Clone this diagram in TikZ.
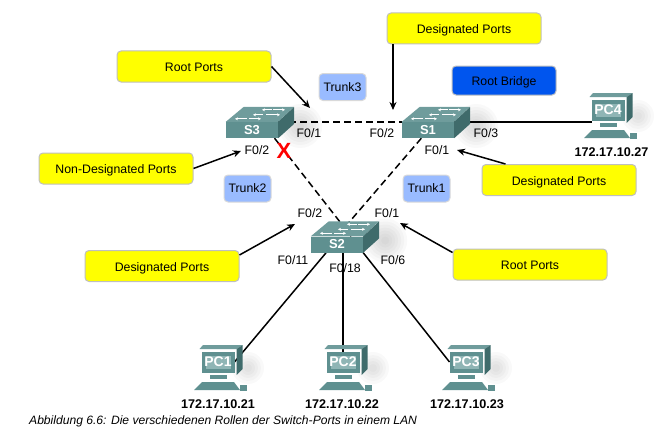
\documentclass[tikz,border=0pt]{standalone}
\usepackage{fontspec}
\setmainfont{Liberation Sans}
\usetikzlibrary{backgrounds,arrows.meta}
\definecolor{notecolor}{HTML}{FFFF00}
\definecolor{bridgecolor}{HTML}{0055EE}
\definecolor{trunkcolor}{HTML}{99BBFF}
\definecolor{facecolor}{HTML}{5F9090}
\definecolor{topcolor}{HTML}{6F9C9C}
\definecolor{sidecolor}{HTML}{3F6B6B}
\definecolor{screencolor}{HTML}{8FB5B5}
\tikzset{
    lbl/.style={font=\fontsize{12.3}{14}\selectfont, inner sep=0pt},
    note/.style={lbl, text height=10pt, text depth=0pt, draw=black!25, line width=1pt, fill=notecolor, rounded corners=4pt, minimum width=154pt, minimum height=31pt},
    bridge/.style={note, fill=bridgecolor, minimum width=104pt, minimum height=29pt},
    trunk/.style={lbl, draw=black!15, line width=1pt, fill=trunkcolor, rounded corners=4pt, minimum width=47pt, minimum height=27pt},
    switchface/.style={fill=facecolor, text=white, font=\fontsize{13}{14}\bfseries, inner sep=0pt, minimum width=52pt, minimum height=16pt},
    pcface/.style={draw=facecolor, line width=4pt, fill=screencolor, text=white, font=\fontsize{14}{16}\bfseries, inner sep=0pt, minimum width=29pt, minimum height=17pt},
    ip/.style={font=\fontsize{12.6}{14}\bfseries, inner sep=0pt},
    pointer/.style={->, >={Stealth[length=8pt,width=7pt]}, line width=1.5pt},
    trunkline/.style={line width=1.5pt, dash pattern=on 7pt off 4pt},
    cable/.style={line width=1.5pt}
}
% switch: name, position of the front face, text
\newcommand{\SwitchIcon}[3]{
    \node[switchface] (#1) at (#2) {#3};
    \fill[topcolor] (#1.north west) -- ++(18,-15) -- ++(50,0) -- (#1.north east) -- cycle;
    \fill[sidecolor] (#1.north east) -- ++(16,-15) -- ++(0,17) -- (#1.south east) -- cycle;
    \foreach \xa/\xb/\dy in {20/10/12, 21/33/12, 11/1/7, 14/28/7, -5/-17/3, -3/9/3} % the small arrows on top
        \draw[white, line width=0.9pt, -{Stealth[length=3pt,width=3pt]}] (#1.north) ++(\xa,-\dy) -- ++(\xb-\xa,0);
    \begin{pgfonlayer}{background}
        \foreach \r in {4,7,...,22} % soft shadow
            \fill[black, opacity=0.025] (#1.east) ++(22,-4) circle (\r);
    \end{pgfonlayer}
}
% pc: name, position of the screen, text, address, shift of the address
\newcommand{\PcIcon}[5]{
    \begin{scope}[shift={(#2)}]
        \fill[topcolor] (-18.5,-13) -- (-15,-17) -- (24.7,-17) -- (18.7,-13) -- cycle;
        \fill[sidecolor] (18.7,-13) -- (24.7,-17) -- (24.7,7) -- (18.7,13) -- cycle;
        \fill[facecolor] (-8,13) rectangle (9,17);
        \fill[facecolor] (-16,20) -- (16,20) -- (22,28) -- (-24,28) -- cycle;
        \fill[facecolor] (22,23) rectangle (29,29);
        \node[pcface] (#1) at (0,0) {#3};
        \node[ip] (#1ip) at (#5,42) {#4};
        \begin{pgfonlayer}{background}
            \foreach \r in {4,7,...,16} % soft shadow
                \fill[black, opacity=0.025] (30,6) circle (\r);
        \end{pgfonlayer}
    \end{scope}
}
\begin{document}
\begin{tikzpicture}[x=1pt, y=-1pt]
    \useasboundingbox (0,0) rectangle (666,436);

    \SwitchIcon{S3}{252,130}{S3}
    \SwitchIcon{S1}{428,130}{S1}
    \SwitchIcon{S2}{337,244.5}{S2}
    \PcIcon{PC4}{608,110}{PC4}{172.17.10.27}{3.5}
    \PcIcon{PC1}{218,362}{PC1}{172.17.10.21}{0}
    \PcIcon{PC2}{343,362}{PC2}{172.17.10.22}{-1}
    \PcIcon{PC3}{466,362}{PC3}{172.17.10.23}{1}

    \node[note] (rootA) at (194,66.5) {Root Ports};
    \node[note] (desigA) at (464,28.5) {Designated Ports};
    \node[bridge] (rootbridge) at (504,80.5) {Root Bridge};
    \node[note] (nondesig) at (116,168.5) {Non-Designated Ports};
    \node[note] (desigB) at (559,180) {Designated Ports};
    \node[note] (desigC) at (162,266) {Designated Ports};
    \node[note] (rootB) at (530,264.5) {Root Ports};
    \node[trunk] (trunkC) at (342.5,87) {Trunk3};
    \node[trunk] (trunkB) at (247.5,188.5) {Trunk2};
    \node[trunk] (trunkA) at (426.5,188.5) {Trunk1};

    % Ports
    \node[lbl] (s3a) at (309,133) {F0/1};
    \node[lbl] (s3b) at (257,150) {F0/2};
    \node[lbl] (s1b) at (382,133) {F0/2};
    \node[lbl] (s1c) at (486,133) {F0/3};
    \node[lbl] (s1a) at (437,150) {F0/1};
    \node[lbl] (s2b) at (310,213) {F0/2};
    \node[lbl] (s2a) at (387,213) {F0/1};
    \node[lbl] (s2k) at (293,260) {F0/11};
    \node[lbl] (s2m) at (345,268) {F0/18};
    \node[lbl] (s2f) at (393,260) {F0/6};

    \begin{scope}[on background layer]
        \draw[trunkline] (S3.north east) -- (S1.north west);
        \draw[trunkline] (S3.-20) -- (S2.30);
        \draw[trunkline] (S1.-129) -- (S2.north);
        \draw[cable] (S1.north east) -- (PC4.west |- S1.north east);
        \draw[cable] (S2.217) -- (PC1.east);
        \draw[cable] (S2.south -| PC2.north) -- (PC2.north);
        \draw[cable] (S2.south east) -- (PC3.west);
    \end{scope}

    % Arrows to the ports
    \coordinate (tipA) at (310,108);
    \coordinate (tipB) at (393,110);
    \coordinate (tipC) at (241,151);
    \coordinate (tipD) at (457,150);
    \coordinate (tipE) at (295,224);
    \coordinate (tipF) at (400,223);
    \draw[pointer] (rootA.east) -- (tipA);
    \draw[pointer] (desigA.south -| tipB) -- (tipB);
    \draw[pointer] (nondesig.east) -- (tipC);
    \draw[pointer] (desigB.north west) ++(24,0) -- (tipD);
    \draw[pointer] (desigC.north east) ++(0,5) -- (tipE);
    \draw[pointer] (rootB.north west) ++(0,4) -- (tipF);

    \node[text=red, font=\fontsize{22}{22}\bfseries, inner sep=0pt] (block) at (284,151) {X};
    \node[anchor=west, font=\fontsize{12.1}{14}\itshape, inner sep=0pt] (caption) at (29,421) {Abbildung 6.6: Die verschiedenen Rollen der Switch-Ports in einem LAN};
\end{tikzpicture}
\end{document}
